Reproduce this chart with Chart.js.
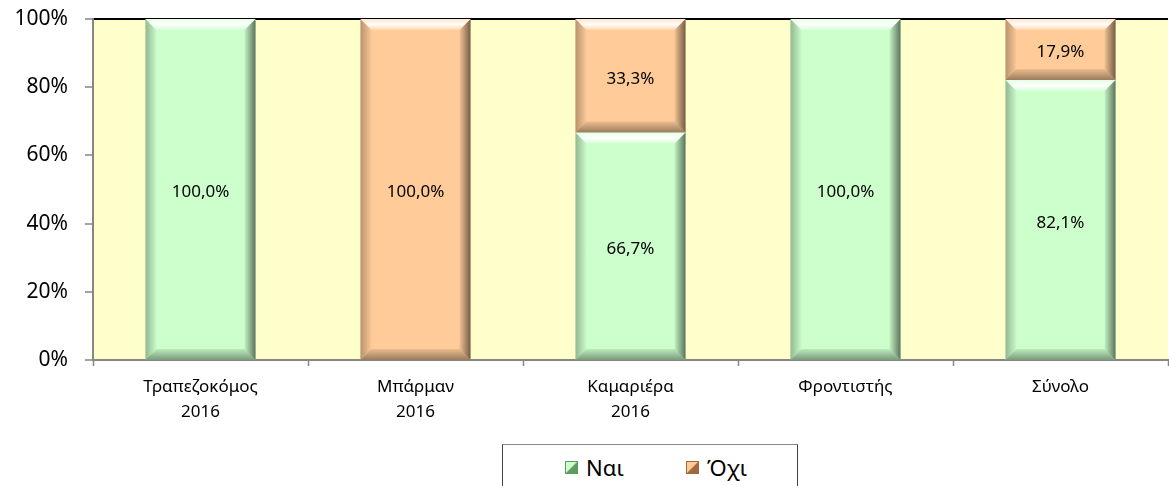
<!DOCTYPE html>
<html>
<head>
<meta charset="utf-8">
<script src="https://cdn.jsdelivr.net/npm/chart.js@4.4.1/dist/chart.umd.min.js"></script>
<style>
  html, body { margin: 0; padding: 0; background: #fff; }
  #wrap { position: relative; width: 1169px; height: 486px; overflow: hidden; }
  #c { position: absolute; left: 0; top: 0; }
  #legend { position: absolute; left: 502px; top: 444px; width: 294px; height: 60px;
            border: 1px solid #444; border-top-color: #888; background: #fff;
            font-family: "Noto Sans", sans-serif; font-size: 22px; color: #000; }
  .item { position: absolute; top: 7px; display: flex; align-items: center; }
  .sw { width: 13px; height: 13px; margin-right: 8px; position: relative; }
  .lab { line-height: 30px; }
</style>
</head>
<body>
<div id="wrap">
  <canvas id="c" width="1169" height="486"></canvas>
  <div id="legend"></div>
</div>
<script>
// ---- data ----
const categories = [["Τραπεζοκόμος", "2016"], ["Μπάρμαν", "2016"], ["Καμαριέρα", "2016"], "Φροντιστής", "Σύνολο"];
const seriesNames = ["Ναι", "Όχι"];
const yesValues = [100.0, 0, 66.7, 100.0, 82.1];
const noValues = [0, 100.0, 33.3, 0, 17.9];
const yTicks = [0, 20, 40, 60, 80, 100];

const colors = ["#CCFFCC", "#FFCC99"];
const swatchDark = ["#5f9a5f", "#a06a3c"];

// ---- legend (HTML) ----
const legend = document.getElementById('legend');
const legendX = [62, 183];
seriesNames.forEach((n, i) => {
  const it = document.createElement('div');
  it.className = 'item';
  it.style.left = legendX[i] + 'px';
  const sw = document.createElement('div');
  sw.className = 'sw';
  sw.style.background = `linear-gradient(135deg, ${colors[i]} 0%, ${colors[i]} 45%, ${swatchDark[i]} 55%, ${swatchDark[i]} 100%)`;
  sw.style.border = '1px solid ' + swatchDark[i];
  sw.style.boxSizing = 'border-box';
  const lb = document.createElement('span');
  lb.className = 'lab';
  lb.textContent = n;
  it.appendChild(sw); it.appendChild(lb);
  legend.appendChild(it);
});

// ---- plugins ----
const bgPlugin = {
  id: 'bg',
  beforeDraw(chart) {
    const { ctx, chartArea: a } = chart;
    ctx.save();
    ctx.fillStyle = '#FFFFCC';
    ctx.fillRect(a.left, a.top, a.right - a.left, a.bottom - a.top);
    ctx.restore();
  }
};

const bevelPlugin = {
  id: 'bevel',
  afterDatasetsDraw(chart) {
    const ctx = chart.ctx;
    chart.data.datasets.forEach((ds, di) => {
      const meta = chart.getDatasetMeta(di);
      meta.data.forEach((el, i) => {
        if (!ds.data[i]) return;
        const w = el.width;
        const l = el.x - w / 2, r = el.x + w / 2;
        const t = Math.min(el.y, el.base), b = Math.max(el.y, el.base);
        const bv = Math.min(11, (b - t) / 2);
        ctx.save();
        let g = ctx.createLinearGradient(0, t, 0, t + bv);
        g.addColorStop(0, 'rgba(255,255,255,0.5)');
        g.addColorStop(0.5, 'rgba(255,255,255,0.95)');
        g.addColorStop(1, 'rgba(255,255,255,0.2)');
        ctx.fillStyle = g;
        ctx.beginPath();
        ctx.moveTo(l, t); ctx.lineTo(r, t); ctx.lineTo(r - bv, t + bv); ctx.lineTo(l + bv, t + bv); ctx.closePath();
        ctx.fill();
        g = ctx.createLinearGradient(r - bv, 0, r, 0);
        g.addColorStop(0, 'rgba(0,0,0,0.05)');
        g.addColorStop(1, 'rgba(0,0,0,0.55)');
        ctx.fillStyle = g;
        ctx.beginPath();
        ctx.moveTo(r, t); ctx.lineTo(r, b); ctx.lineTo(r - bv, b - bv); ctx.lineTo(r - bv, t + bv); ctx.closePath();
        ctx.fill();
        g = ctx.createLinearGradient(l, 0, l + bv, 0);
        g.addColorStop(0, 'rgba(0,0,0,0.28)');
        g.addColorStop(1, 'rgba(0,0,0,0.02)');
        ctx.fillStyle = g;
        ctx.beginPath();
        ctx.moveTo(l, t); ctx.lineTo(l + bv, t + bv); ctx.lineTo(l + bv, b - bv); ctx.lineTo(l, b); ctx.closePath();
        ctx.fill();
        g = ctx.createLinearGradient(0, b - bv, 0, b);
        g.addColorStop(0, 'rgba(0,0,0,0.08)');
        g.addColorStop(1, 'rgba(0,0,0,0.4)');
        ctx.fillStyle = g;
        ctx.beginPath();
        ctx.moveTo(l, b); ctx.lineTo(r, b); ctx.lineTo(r - bv, b - bv); ctx.lineTo(l + bv, b - bv); ctx.closePath();
        ctx.fill();
        ctx.restore();
      });
    });
  }
};

const labelPlugin = {
  id: 'vlabels',
  afterDatasetsDraw(chart) {
    const ctx = chart.ctx;
    ctx.save();
    ctx.font = '17px "Noto Sans", sans-serif';
    ctx.fillStyle = '#000';
    ctx.textAlign = 'center';
    ctx.textBaseline = 'middle';
    chart.data.datasets.forEach((ds, di) => {
      const meta = chart.getDatasetMeta(di);
      meta.data.forEach((el, i) => {
        const v = ds.data[i];
        if (!v) return;
        const y = (el.y + el.base) / 2;
        ctx.fillText(v.toFixed(1).replace('.', ',') + '%', el.x, y + 3);
      });
    });
    ctx.restore();
  }
};

// ---- chart ----
new Chart(document.getElementById('c'), {
  type: 'bar',
  data: {
    labels: categories,
    datasets: [
      { label: seriesNames[0], data: yesValues, backgroundColor: colors[0], borderWidth: 0,
        barPercentage: 0.512, categoryPercentage: 1 },
      { label: seriesNames[1], data: noValues, backgroundColor: colors[1], borderWidth: 0,
        barPercentage: 0.512, categoryPercentage: 1 }
    ]
  },
  options: {
    responsive: false,
    animation: false,
    layout: { padding: { left: 0, right: 1, top: 19, bottom: 0 } },
    plugins: { legend: { display: false }, tooltip: { enabled: false } },
    scales: {
      x: {
        stacked: true,
        offset: true,
        grid: { offset: true, drawOnChartArea: false, tickLength: 6, tickColor: '#868686', tickWidth: 1.5 },
        border: { color: '#868686', width: 2 },
        ticks: { color: '#000', font: { family: '"Noto Sans", sans-serif', size: 17, lineHeight: 1.45 },
                 padding: 9, maxRotation: 0, autoSkip: false },
        afterFit(s) { s.height = 126; }
      },
      y: {
        stacked: true,
        min: 0, max: 100,
        afterBuildTicks(s) { s.ticks = yTicks.map(v => ({ value: v })); },
        grid: {
          color: ctx => ctx.tick && ctx.tick.value === 100 ? '#000' : 'rgba(0,0,0,0)',
          lineWidth: ctx => ctx.tick && ctx.tick.value === 100 ? 2 : 0,
          tickLength: 8, tickColor: '#868686', tickWidth: 1.5
        },
        border: { color: '#868686', width: 2 },
        ticks: { color: '#000', font: { family: '"Noto Sans", sans-serif', size: 21 }, padding: 17,
                 callback: v => v + '%' },
        afterFit(s) { s.width = 93; s.paddingTop = 0; s.paddingBottom = 0; }
      }
    }
  },
  plugins: [bgPlugin, bevelPlugin, labelPlugin]
});
</script>
</body>
</html>
